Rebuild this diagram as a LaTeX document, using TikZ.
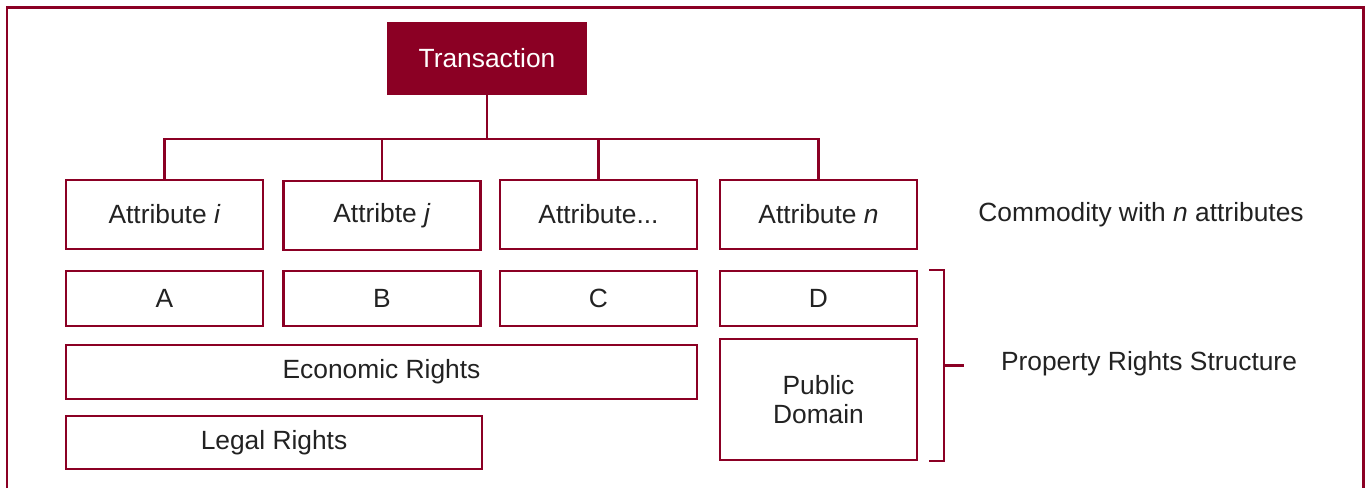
\documentclass[tikz,border=0pt]{standalone}
\usepackage{fontspec}
\setmainfont{Liberation Sans}
\usepackage{xcolor}
\usepackage{tikz}
\usetikzlibrary{positioning, calc}
\definecolor{mywine}{RGB}{139,0,36}
\definecolor{mytext}{RGB}{34,34,34}
\tikzset{
  topbox/.style={rectangle, draw=mywine, fill=mywine, text=white,
    minimum width=3.96cm, minimum height=1.42cm,
    font=\fontsize{15}{16.5}\selectfont, line width=1.2pt},
  attrbox/.style={rectangle, draw=mywine, fill=white, text=mytext,
    minimum width=3.94cm, minimum height=1.38cm,
    font=\fontsize{15}{16.5}\selectfont, line width=1.4pt},
  rightbox/.style={attrbox, minimum height=1.1cm},
  label/.style={text=mytext, font=\fontsize{15}{16.5}\selectfont},
  conn/.style={draw=mywine, line width=1.4pt},
  frameline/.style={draw=mywine, line width=1.7pt}
}
\begin{document}
\begin{tikzpicture}[x=0.02cm, y=-0.02cm]
  \useasboundingbox (0,0) rectangle (1368,488);
  % outer frame (open at the bottom)
  \draw[frameline] (7,488) -- (7,7) -- (1363,7) -- (1363,488);

  % Transaction
  \node[topbox] (trans) at (487,58.5) {Transaction};
  \coordinate (bus) at (487,139);

  % Attributes
  \node[attrbox] (attrI) at (164.5,214.5) {Attribute \textit{i}};
  \node[attrbox] (attrJ) at (382,215.5) {Attribte \textit{j}};
  \node[attrbox] (attrDots) at (598.5,214.5) {Attribute...};
  \node[attrbox] (attrN) at (818.5,214.5) {Attribute \textit{n}};

  \draw[conn] (trans.south) -- (bus);
  \draw[conn] (attrI.north) |- (bus) -| (attrN.north);
  \draw[conn] (attrJ.north) -- (attrJ.north |- bus);
  \draw[conn] (attrDots.north) -- (attrDots.north |- bus);

  % Rights
  \node[rightbox] (rA) at (164.5,298.5) {A};
  \node[rightbox] (rB) at (382,298.5) {B};
  \node[rightbox] (rC) at (598.5,298.5) {C};
  \node[rightbox] (rD) at (818.5,298.5) {D};
  \node[rightbox, minimum width=12.62cm, minimum height=1.08cm] (econ) at (381.5,372) {Economic Rights};
  \node[rightbox, minimum width=8.32cm, minimum height=1.06cm] (legal) at (274,442.5) {Legal Rights};
  \node[rightbox, minimum height=2.42cm, align=center] (pubdom) at (818.5,399.5) {Public\\Domain};

  % bracket
  \coordinate (brtop) at ($(rD.north east)+(11,0)$);
  \coordinate (brbot) at ($(pubdom.south east)+(11,0)$);
  \draw[conn] (brtop) -- ++(15,0) coordinate (brtopr) -- (brtopr |- brbot) -- (brbot);
  \coordinate (brmid) at ($(brtopr)!0.5!(brtopr |- brbot)$);
  \draw[conn] (brmid) -- ++(20,0);

  % side labels
  \node[label] (commodity) at (1141,215) {Commodity with \textit{n} attributes};
  \node[label] (prs) at (1149,364) {Property Rights Structure};
\end{tikzpicture}
\end{document}
